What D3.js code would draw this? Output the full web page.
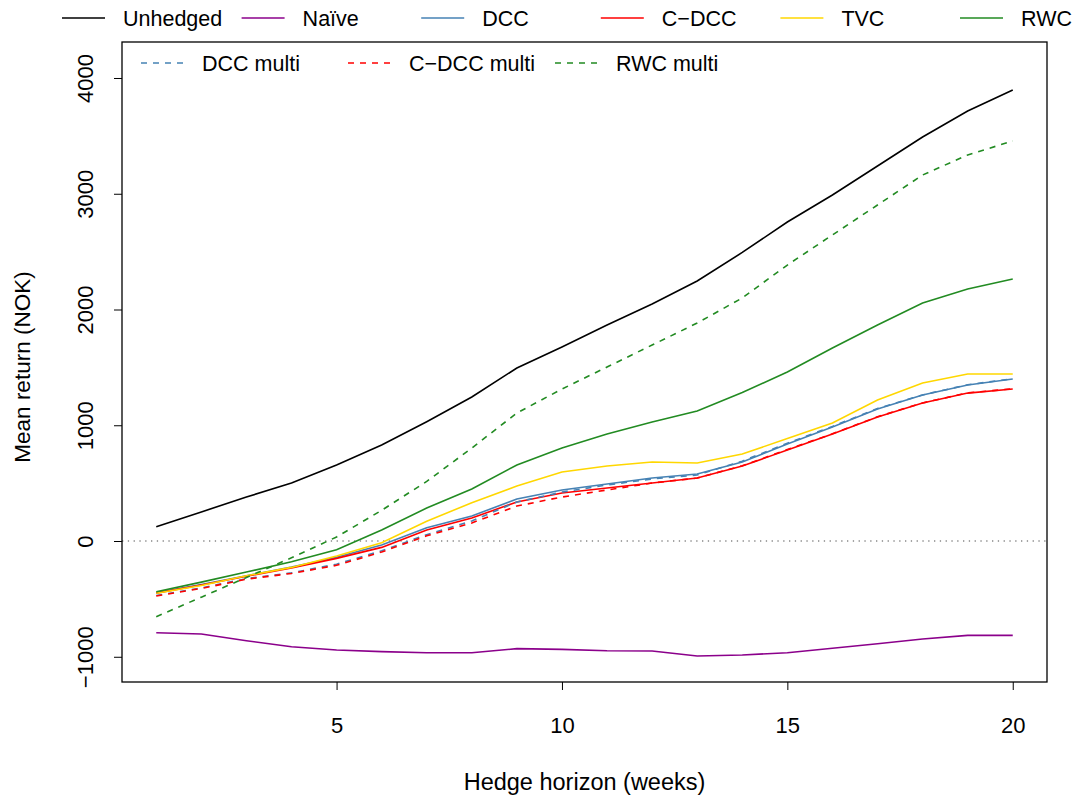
<!DOCTYPE html>
<html lang="en">
<head>
  <meta charset="UTF-8">
  <title>Mean return by hedge horizon</title>
  <style>
    body { margin: 0; background: #fff; }
    svg { display: block; font-family: "Liberation Sans", Arial, sans-serif; }
    .axis text { font-size: 22px; fill: #000; font-family: "Liberation Sans", Arial, sans-serif; }
    .axis line { stroke: #000; stroke-width: 1; }
  </style>
  <script src="https://d3js.org/d3.v7.min.js"></script>
</head>
<body>
  <svg id="chart" width="1075" height="796"></svg>
  <script>
    // hedge horizon in weeks
    const horizon = [1, 2, 3, 4, 5, 6, 7, 8, 9, 10, 11, 12, 13, 14, 15, 16, 17, 18, 19, 20];

    // mean return (NOK)
    const unhedged  = [124, 251, 380, 501, 657, 829, 1031, 1244, 1495, 1676, 1866, 2048, 2246, 2493, 2756, 2989, 3240, 3490, 3715, 3896];
    const naive     = [-792, -803, -861, -913, -942, -956, -965, -965, -930, -936, -948, -950, -994, -985, -965, -927, -887, -847, -815, -815];
    const dcc       = [-445, -375, -300, -225, -140, -35, 115, 216, 363, 441, 492, 544, 579, 683, 838, 985, 1140, 1261, 1348, 1400];
    const cdcc      = [-450, -380, -305, -232, -150, -55, 95, 199, 337, 415, 458, 501, 544, 648, 786, 924, 1071, 1192, 1278, 1313];
    const tvc       = [-452, -385, -300, -228, -130, -15, 170, 331, 475, 596, 648, 683, 674, 752, 885, 1019, 1218, 1365, 1443, 1443];
    const rwc       = [-438, -355, -268, -180, -75, 95, 285, 449, 657, 803, 924, 1028, 1123, 1283, 1460, 1667, 1866, 2056, 2177, 2263];
    const dccMulti  = [-470, -405, -325, -275, -200, -85, 55, 173, 337, 423, 484, 536, 570, 690, 845, 990, 1145, 1262, 1350, 1402];
    const cdccMulti = [-475, -410, -330, -280, -210, -95, 45, 156, 302, 380, 441, 501, 544, 650, 790, 926, 1073, 1193, 1280, 1315];
    const rwcMulti  = [-654, -485, -315, -145, 35, 265, 515, 803, 1106, 1313, 1503, 1693, 1883, 2100, 2384, 2644, 2903, 3162, 3335, 3456];

    const xTicks = [5, 10, 15, 20];
    const yTicks = [-1000, 0, 1000, 2000, 3000, 4000];
    const xLim = [0.24, 20.76];
    const yLim = [-1218, 4311];

    const series = [
      { name: 'Unhedged',     values: unhedged,  color: '#000000',  dash: null },
      { name: 'Naïve',        values: naive,     color: '#8B008B',  dash: null },
      { name: 'DCC',          values: dcc,       color: '#4682B4',  dash: null },
      { name: 'C\u2212DCC',   values: cdcc,      color: '#FF0000',  dash: null },
      { name: 'TVC',          values: tvc,       color: '#FFD700',  dash: null },
      { name: 'RWC',          values: rwc,       color: '#228B22',  dash: null },
      { name: 'DCC multi',    values: dccMulti,  color: '#4682B4',  dash: '6,6' },
      { name: 'C\u2212DCC multi', values: cdccMulti, color: '#FF0000', dash: '6,6' },
      { name: 'RWC multi',    values: rwcMulti,  color: '#228B22',  dash: '6,6' }
    ];

    const svg = d3.select('#chart');
    const plotL = 122, plotR = 1047, plotT = 42, plotB = 682;

    const x = d3.scaleLinear().domain(xLim).range([plotL, plotR]);
    const y = d3.scaleLinear().domain(yLim).range([plotB, plotT]);

    // zero reference line
    svg.append('line')
      .attr('x1', plotL).attr('x2', plotR)
      .attr('y1', y(0)).attr('y2', y(0))
      .attr('stroke', '#888')
      .attr('stroke-width', 1.3)
      .attr('stroke-dasharray', '1.3,4.5');

    const line = d3.line()
      .x((d, i) => x(horizon[i]))
      .y(d => y(d));

    svg.append('g')
      .selectAll('path')
      .data(series)
      .join('path')
      .attr('d', d => line(d.values))
      .attr('fill', 'none')
      .attr('stroke', d => d.color)
      .attr('stroke-width', 1.6)
      .attr('stroke-dasharray', d => d.dash);

    // axes
    const xAxis = svg.append('g')
      .attr('class', 'axis')
      .attr('transform', `translate(0,${plotB})`)
      .call(d3.axisBottom(x).tickValues(xTicks).tickSize(8));
    xAxis.select('.domain').remove();
    xAxis.selectAll('text').attr('dy', null).attr('y', 51);

    const yAxis = svg.append('g')
      .attr('class', 'axis')
      .attr('transform', `translate(${plotL},0)`)
      .call(d3.axisLeft(y).tickValues(yTicks).tickSize(8)
        .tickFormat(d => d < 0 ? '\u2212' + Math.abs(d) : String(d)));
    yAxis.select('.domain').remove();
    yAxis.selectAll('text')
      .attr('x', null).attr('dy', null).attr('y', null)
      .attr('text-anchor', 'middle')
      .attr('transform', 'translate(-29,0) rotate(-90)');

    // plot box
    svg.append('rect')
      .attr('x', plotL).attr('y', plotT)
      .attr('width', plotR - plotL).attr('height', plotB - plotT)
      .attr('fill', 'none')
      .attr('stroke', '#000')
      .attr('stroke-width', 1.3);

    // axis titles
    svg.append('text')
      .attr('x', (plotL + plotR) / 2).attr('y', 790)
      .attr('text-anchor', 'middle')
      .style('font-size', '23.5px')
      .text('Hedge horizon (weeks)');

    svg.append('text')
      .attr('transform', `translate(30,${(plotT + plotB) / 2 + 5}) rotate(-90)`)
      .attr('text-anchor', 'middle')
      .style('font-size', '22.5px')
      .text('Mean return (NOK)');

    // legend: first row above the plot, second row inside it
    const legendRows = [
      { items: series.slice(0, 6), y: 18, x0: 62, step: 179.6 },
      { items: series.slice(6), y: 63, x0: 141, step: 207 }
    ];
    legendRows.forEach(row => {
      const g = svg.append('g').selectAll('g')
        .data(row.items)
        .join('g')
        .attr('transform', (d, i) => `translate(${row.x0 + i * row.step},${row.y})`);
      g.append('line')
        .attr('x1', 0).attr('x2', 43)
        .attr('stroke', d => d.color)
        .attr('stroke-width', 1.6)
        .attr('stroke-dasharray', d => d.dash);
      g.append('text')
        .attr('x', 61).attr('y', 8)
        .style('font-size', '21.5px')
        .text(d => d.name);
    });
  </script>
</body>
</html>
